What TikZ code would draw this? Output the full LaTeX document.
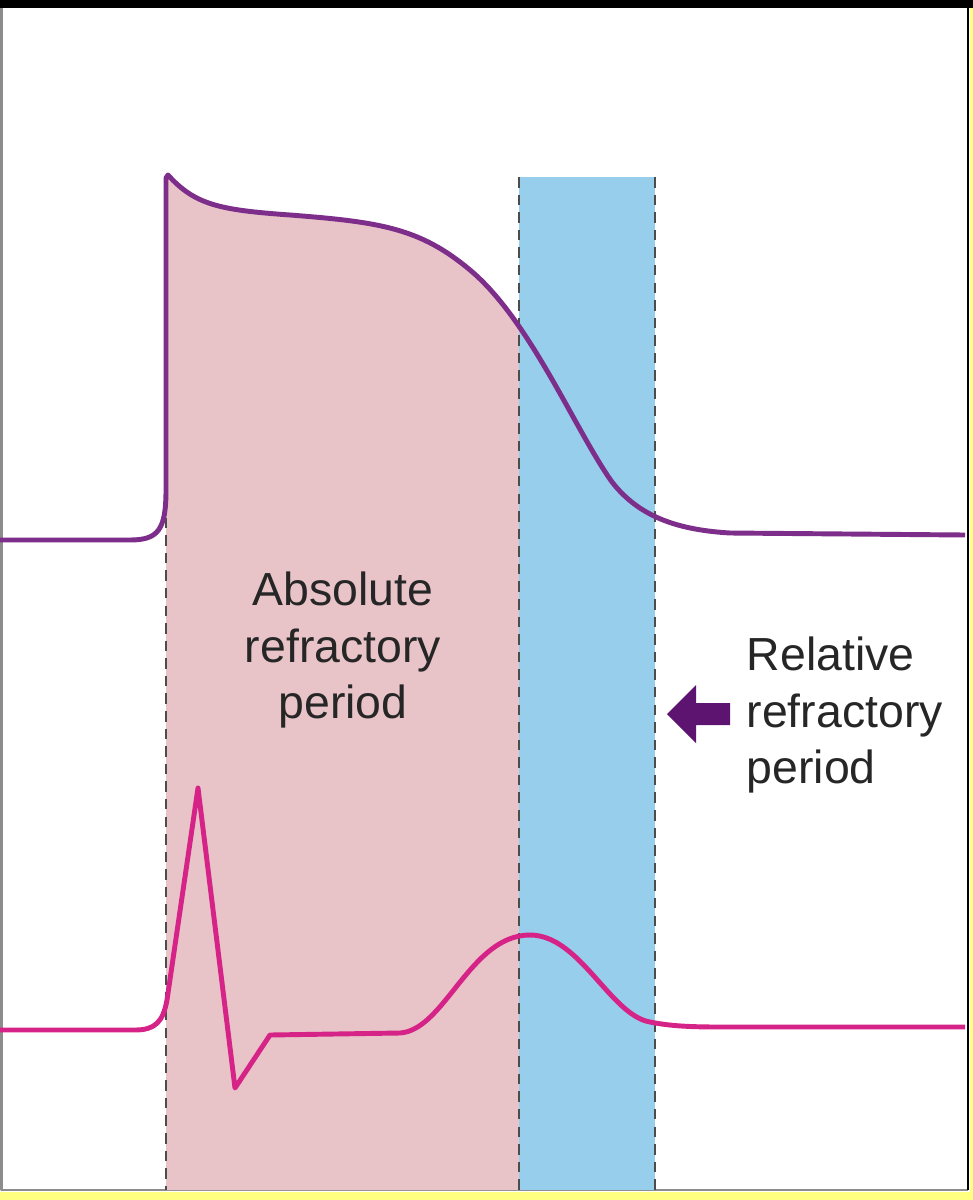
\documentclass[tikz,border=0pt]{standalone}
\usepackage{fontspec}
\setmainfont{Liberation Sans}
\definecolor{apline}{RGB}{125,45,138}
\definecolor{ecgline}{RGB}{214,35,135}
\definecolor{absfill}{RGB}{232,196,200}
\definecolor{relfill}{RGB}{150,206,235}
\definecolor{arrowfill}{RGB}{92,20,112}
\definecolor{edgeyellow}{RGB}{255,255,128}
\begin{document}
\begin{tikzpicture}[x=0.01cm,y=-0.01cm,line join=round,
  trace/.style={line width=1.4pt},
  divider/.style={densely dashed,draw=black!70,line width=0.5pt},
  label/.style={font=\fontsize{13.2}{16.2}\selectfont,text=black!85}]
  \useasboundingbox (0,0) rectangle (973,1200);
  \fill[white] (0,0) rectangle (973,1200);

  % frame
  \fill[edgeyellow] (0,1192) rectangle (973,1200);
  \fill[edgeyellow] (970,0) rectangle (973,1200);
  \fill[black] (0,0) rectangle (973,8);
  \draw[black!45,line width=0.6pt] (1.5,8) -- (1.5,1190) -- (968,1190);
  \draw[black,line width=0.8pt] (968,8) -- (968,1190);

  % absolute refractory period
  \begin{scope}
    \clip (166,0) rectangle (519,1190);
    \fill[absfill] (166,1190) -- (166,176) -- (168,175)
      .. controls (195,205) and (220,210) .. (290,215)
      .. controls (380,222) and (420,228) .. (470,270)
      .. controls (530,320) and (570,420) .. (610,480)
      -- (610,1190) -- cycle;
  \end{scope}

  % relative refractory period
  \fill[relfill] (519,177) rectangle (655,1190);

  \draw[divider] (166,500) -- (166,1190);
  \draw[divider] (519,177) -- (519,1190);
  \draw[divider] (655,177) -- (655,1190);

  % action potential
  \draw[trace,apline] (0,540) -- (130,540)
    .. controls (158,540) and (166,530) .. (166,490) -- (166,178) -- (168,175)
    .. controls (195,205) and (220,210) .. (290,215)
    .. controls (380,222) and (420,228) .. (470,270)
    .. controls (530,320) and (575,430) .. (612,482)
    .. controls (640,518) and (680,530) .. (730,533) -- (965,535);

  % ECG
  \draw[trace,ecgline] (0,1030) -- (135,1030)
    .. controls (155,1030) and (163,1022) .. (167,1000)
    -- (198,788) -- (235,1088) -- (270,1035) -- (400,1033)
    .. controls (445,1030) and (470,935) .. (530,935)
    .. controls (580,935) and (610,1015) .. (650,1022)
    .. controls (670,1026) and (690,1027) .. (720,1027) -- (965,1027);

  \node[label,align=center] (absolute) at (343,650)
    {Absolute\\refractory\\period};
  \node[label,align=left,anchor=west,inner sep=0pt] (relative) at (746,715)
    {Relative\\refractory\\period};

  % pointer
  \fill[arrowfill] (667,714) -- (696,685) -- (696,703) -- (730,703)
    -- (730,725) -- (696,725) -- (696,743) -- cycle;
\end{tikzpicture}
\end{document}
